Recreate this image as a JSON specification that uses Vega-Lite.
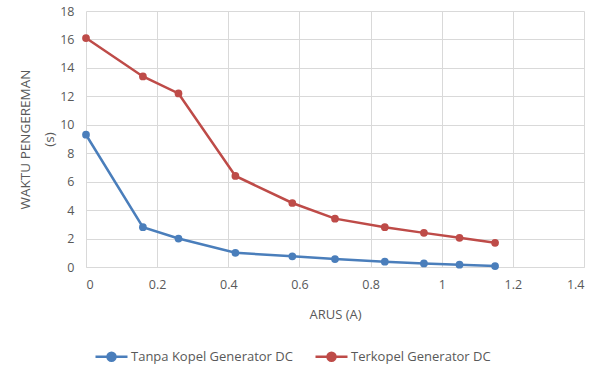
{
  "$schema": "https://vega.github.io/schema/vega-lite/v6.json",
  "width": 498,
  "height": 256,
  "autosize": {"type": "none"},
  "padding": {"left": 86, "top": 11, "right": 16, "bottom": 102},
  "background": "white",
  "config": {
    "view": {"stroke": null},
    "font": "Open Sans",
    "axis": {"labelColor": "#595959", "titleColor": "#595959", "labelFont": "Open Sans", "titleFont": "Open Sans", "gridColor": "#d9d9d9", "gridWidth": 1, "domainColor": "#d9d9d9", "ticks": false, "labelFontSize": 12.5, "titleFontSize": 13, "titleFontWeight": "normal"}
  },
  "data": {"values": [
    {"s": "Tanpa Kopel Generator DC", "x": 0, "y": 9.3},
    {"s": "Tanpa Kopel Generator DC", "x": 0.16, "y": 2.8},
    {"s": "Tanpa Kopel Generator DC", "x": 0.26, "y": 2.0},
    {"s": "Tanpa Kopel Generator DC", "x": 0.42, "y": 1.0},
    {"s": "Tanpa Kopel Generator DC", "x": 0.58, "y": 0.75},
    {"s": "Tanpa Kopel Generator DC", "x": 0.7, "y": 0.56},
    {"s": "Tanpa Kopel Generator DC", "x": 0.84, "y": 0.37},
    {"s": "Tanpa Kopel Generator DC", "x": 0.95, "y": 0.25},
    {"s": "Tanpa Kopel Generator DC", "x": 1.05, "y": 0.16},
    {"s": "Tanpa Kopel Generator DC", "x": 1.15, "y": 0.07},
    {"s": "Terkopel Generator DC", "x": 0, "y": 16.1},
    {"s": "Terkopel Generator DC", "x": 0.16, "y": 13.4},
    {"s": "Terkopel Generator DC", "x": 0.26, "y": 12.2},
    {"s": "Terkopel Generator DC", "x": 0.42, "y": 6.4},
    {"s": "Terkopel Generator DC", "x": 0.58, "y": 4.5},
    {"s": "Terkopel Generator DC", "x": 0.7, "y": 3.4},
    {"s": "Terkopel Generator DC", "x": 0.84, "y": 2.8},
    {"s": "Terkopel Generator DC", "x": 0.95, "y": 2.4},
    {"s": "Terkopel Generator DC", "x": 1.05, "y": 2.05},
    {"s": "Terkopel Generator DC", "x": 1.15, "y": 1.7}
  ]},
  "encoding": {
    "x": {"field": "x", "type": "quantitative", "scale": {"domain": [0, 1.4], "nice": false}, "axis": {"values": [0, 0.2, 0.4, 0.6, 0.8, 1, 1.2, 1.4], "format": "~g", "labelPadding": 11, "title": "ARUS  (A)", "titlePadding": 18, "domain": true}},
    "y": {"field": "y", "type": "quantitative", "scale": {"domain": [0, 18], "nice": false}, "axis": {"values": [0, 2, 4, 6, 8, 10, 12, 14, 16, 18], "labelPadding": 12, "title": ["WAKTU  PENGEREMAN", "(s)"], "titleFontSize": 13.5, "titlePadding": 3, "titleLineHeight": 24, "domain": false}},
    "color": {"field": "s", "type": "nominal", "scale": {"domain": ["Tanpa Kopel Generator DC", "Terkopel Generator DC"], "range": ["#4a7ebb", "#be4b48"]},
      "legend": {"title": null, "orient": "none", "legendX": 8, "legendY": 328, "direction": "horizontal", "columns": 2, "columnPadding": 17, "labelFontSize": 13, "labelLimit": 400, "labelColor": "#595959", "labelFont": "Open Sans", "symbolType": "M-1,0L-0.25,0M0.25,0L1,0M-0.25,0A0.25,0.25,0,1,1,0.25,0A0.25,0.25,0,1,1,-0.25,0", "symbolSize": 1024, "symbolStrokeWidth": 2.5, "labelOffset": 2}}
  },
  "layer": [
    {"mark": {"type": "line", "strokeWidth": 2.5}},
    {"mark": {"type": "point", "filled": true, "opacity": 1, "size": 60}}
  ]
}
